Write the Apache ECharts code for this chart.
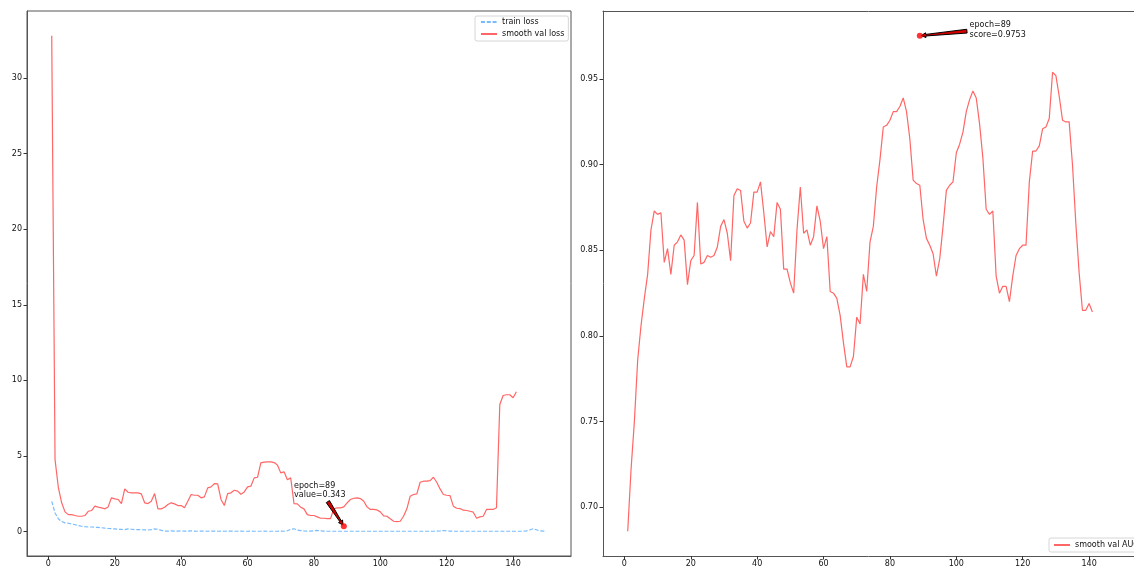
<!DOCTYPE html>
<html>
<head>
<meta charset="utf-8">
<title>Training curves</title>
<script src="https://cdn.jsdelivr.net/npm/echarts@6/dist/echarts.min.js"></script>
<style>
  html, body { margin: 0; padding: 0; background: #fff; }
  #chart { width: 1134px; height: 569px; }
</style>
</head>
<body>
<div id="chart"></div>
<script>
// ---- data -------------------------------------------------------------
const trainLoss = [
  2.00, 1.23, 0.84, 0.66, 0.57, 0.55, 0.50, 0.45, 0.40, 0.35,
  0.32, 0.30, 0.30, 0.28, 0.27, 0.25, 0.22, 0.20, 0.19, 0.17,
  0.15, 0.14, 0.13, 0.17, 0.15, 0.13, 0.12, 0.12, 0.11, 0.10,
  0.12, 0.17, 0.15, 0.08, 0.03, 0.03, 0.04, 0.03, 0.03, 0.04,
  0.03, 0.03, 0.04, 0.03, 0.02, 0.03, 0.03, 0.02, 0.03, 0.03,
  0.02, 0.03, 0.02, 0.03, 0.03, 0.02, 0.02, 0.03, 0.02, 0.02,
  0.03, 0.02, 0.02, 0.02, 0.03, 0.02, 0.02, 0.02, 0.02, 0.03,
  0.02, 0.05, 0.15, 0.18, 0.10, 0.06, 0.04, 0.03, 0.03, 0.05,
  0.07, 0.04, 0.03, 0.02, 0.02, 0.02, 0.02, 0.02, 0.02, 0.02,
  0.02, 0.02, 0.02, 0.02, 0.02, 0.02, 0.02, 0.02, 0.02, 0.02,
  0.02, 0.02, 0.02, 0.02, 0.02, 0.02, 0.02, 0.02, 0.02, 0.02,
  0.02, 0.02, 0.02, 0.02, 0.02, 0.02, 0.03, 0.04, 0.07, 0.04,
  0.03, 0.02, 0.02, 0.02, 0.02, 0.02, 0.02, 0.02, 0.02, 0.02,
  0.02, 0.02, 0.02, 0.02, 0.02, 0.02, 0.02, 0.02, 0.02, 0.02,
  0.02, 0.02, 0.02, 0.04, 0.10, 0.18, 0.12, 0.05, 0.03, 0.02
];

const smoothValLoss = [
  32.8, 4.76, 2.90, 1.90, 1.30, 1.12, 1.12, 1.06, 1.01, 1.01,
  1.06, 1.34, 1.39, 1.68, 1.61, 1.57, 1.50, 1.63, 2.23, 2.16,
  2.12, 1.85, 2.82, 2.60, 2.56, 2.56, 2.56, 2.49, 1.90, 1.85,
  2.00, 2.51, 1.50, 1.50, 1.61, 1.79, 1.90, 1.83, 1.72, 1.72,
  1.57, 2.00, 2.45, 2.40, 2.40, 2.23, 2.29, 2.89, 2.95, 3.17,
  3.15, 2.12, 1.72, 2.51, 2.56, 2.73, 2.67, 2.47, 2.62, 2.95,
  3.00, 3.55, 3.59, 4.54, 4.59, 4.61, 4.61, 4.56, 4.40, 3.88,
  3.95, 3.42, 3.55, 1.84, 1.83, 1.61, 1.50, 1.12, 1.06, 1.06,
  0.97, 0.88, 0.88, 0.86, 0.86, 1.50, 1.57, 1.57, 1.63, 1.90,
  2.12, 2.20, 2.23, 2.18, 2.00, 1.63, 1.46, 1.46, 1.43, 1.30,
  1.04, 1.01, 0.84, 0.68, 0.66, 0.68, 1.01, 1.50, 2.34, 2.45,
  2.49, 3.26, 3.33, 3.33, 3.37, 3.59, 3.26, 2.82, 2.45, 2.40,
  2.38, 1.68, 1.54, 1.52, 1.41, 1.39, 1.34, 1.28, 0.88, 0.97,
  1.01, 1.46, 1.46, 1.46, 1.57, 8.40, 9.00, 9.05, 9.05, 8.85,
  9.25
];

const smoothValAuc = [
  0.686, 0.722, 0.750, 0.786, 0.806, 0.822, 0.836, 0.862, 0.873, 0.871,
  0.872, 0.843, 0.851, 0.836, 0.853, 0.855, 0.859, 0.856, 0.830, 0.844,
  0.847, 0.878, 0.842, 0.843, 0.847, 0.846, 0.847, 0.852, 0.864, 0.868,
  0.860, 0.844, 0.882, 0.886, 0.885, 0.867, 0.863, 0.866, 0.884, 0.884,
  0.890, 0.872, 0.852, 0.861, 0.858, 0.878, 0.874, 0.839, 0.839, 0.831,
  0.825, 0.862, 0.887, 0.860, 0.862, 0.853, 0.858, 0.876, 0.867, 0.851,
  0.858, 0.826, 0.825, 0.822, 0.812, 0.796, 0.782, 0.782, 0.788, 0.811,
  0.807, 0.836, 0.826, 0.855, 0.864, 0.887, 0.903, 0.922, 0.923, 0.926,
  0.931, 0.931, 0.934, 0.939, 0.931, 0.915, 0.891, 0.889, 0.888, 0.868,
  0.857, 0.853, 0.848, 0.835, 0.845, 0.864, 0.885, 0.888, 0.890, 0.907,
  0.912, 0.919, 0.931, 0.938, 0.943, 0.939, 0.924, 0.904, 0.874, 0.871,
  0.873, 0.835, 0.825, 0.829, 0.829, 0.820, 0.835, 0.847, 0.851, 0.853,
  0.853, 0.890, 0.908, 0.908, 0.911, 0.921, 0.922, 0.927, 0.954, 0.952,
  0.940, 0.926, 0.925, 0.925, 0.900, 0.866, 0.837, 0.815, 0.815, 0.819,
  0.814
];

// best epochs reported by the training run
const bestLoss = { epoch: 89, value: 0.343 };
const bestScore = { epoch: 89, value: 0.9753 };

const lossTicks = [0, 5, 10, 15, 20, 25, 30];
const aucTicks = [0.70, 0.75, 0.80, 0.85, 0.90, 0.95];
const epochTicks = [0, 20, 40, 60, 80, 100, 120, 140];

// ---- helpers ----------------------------------------------------------
const withEpochs = arr => arr.map((v, i) => [i + 1, v]);

const FONT = 'DejaVu Sans';
const RED = '#ff6666';
const BLUE = '#78bcff';
const SPINE = '#555';

function paddedRange(values) {
  const lo = Math.min(...values), hi = Math.max(...values);
  const pad = (hi - lo) * 0.05;
  return [lo - pad, hi + pad];
}

const epochRange = paddedRange([1, trainLoss.length]);
const lossRange = paddedRange(trainLoss.concat(smoothValLoss));
const aucRange = paddedRange(smoothValAuc.concat([bestScore.value]));

// panel geometry: both panels share one epoch scale; the right panel
// runs past the page edge, so only the part that fits is laid out.
const PANEL_W = 544, PANEL_H = 545, TOP = 11;
const LEFT_A = 27, LEFT_B = 603, PAGE_W = 1134;
const visibleW = PAGE_W - LEFT_B;
const rightEpochMax = epochRange[0] + (epochRange[1] - epochRange[0]) * visibleW / PANEL_W;

function xAxisFor(gridIndex, max) {
  return {
    type: 'value', gridIndex,
    min: epochRange[0], max,
    splitLine: { show: false },
    axisLine: { show: true, onZero: false, lineStyle: { color: SPINE, width: 1 } },
    axisTick: { show: true, customValues: epochTicks, length: 3.5, lineStyle: { color: '#333' } },
    axisLabel: { customValues: epochTicks, fontFamily: FONT, fontSize: 8, color: '#111', margin: 4 }
  };
}

function topSpine(gridIndex, max) {
  return {
    type: 'value', gridIndex, position: 'top',
    min: epochRange[0], max,
    splitLine: { show: false },
    axisLine: { show: true, onZero: false, lineStyle: { color: SPINE, width: 1 } },
    axisTick: { show: false }, axisLabel: { show: false }
  };
}

function yAxisFor(gridIndex, range, ticks, fmt) {
  return {
    type: 'value', gridIndex,
    min: range[0], max: range[1],
    splitLine: { show: false },
    axisLine: { show: true, onZero: false, lineStyle: { color: SPINE, width: 1 } },
    axisTick: { show: true, customValues: ticks, length: 3.5, lineStyle: { color: '#333' } },
    axisLabel: { customValues: ticks, fontFamily: FONT, fontSize: 8, color: '#111', margin: 5,
                 formatter: fmt }
  };
}

// tapered arrow from the note toward the marked point, in data coordinates
function renderArrow(params, api) {
  const a = api.coord([api.value(0), api.value(1)]);
  const b = api.coord([api.value(2), api.value(3)]);
  const dx = b[0] - a[0], dy = b[1] - a[1];
  const len = Math.hypot(dx, dy);
  const ux = dx / len, uy = dy / len, nx = -uy, ny = ux;
  const tip = [b[0] - ux * 1.5, b[1] - uy * 1.5];
  const headLen = 4.5, headW = 2.4, w0 = 1.9, w1 = 0.8;
  const hb = [tip[0] - ux * headLen, tip[1] - uy * headLen];
  const pts = [
    [a[0] + nx * w0, a[1] + ny * w0],
    [hb[0] + nx * w1, hb[1] + ny * w1],
    [hb[0] + nx * headW, hb[1] + ny * headW],
    tip,
    [hb[0] - nx * headW, hb[1] - ny * headW],
    [hb[0] - nx * w1, hb[1] - ny * w1],
    [a[0] - nx * w0, a[1] - ny * w0]
  ];
  return {
    type: 'polygon',
    shape: { points: pts },
    style: { fill: '#d40000', stroke: '#000', lineWidth: 1 }
  };
}

// two-line note anchored at the baseline of its last line
function renderNote(params, api) {
  const p = api.coord([api.value(0), api.value(1)]);
  return {
    type: 'text',
    x: p[0], y: p[1] + 3.5,
    style: {
      text: api.value(2),
      fontFamily: FONT, fontSize: 8, lineHeight: 9.4,
      fill: '#111', align: 'left', verticalAlign: 'bottom'
    }
  };
}

const legendBase = {
  orient: 'vertical',
  itemWidth: 16, itemHeight: 8, itemGap: 4,
  backgroundColor: 'rgba(255,255,255,0.9)',
  borderColor: '#d6d6d6', borderWidth: 1, borderRadius: 2,
  itemStyle: { color: 'rgba(0,0,0,0)', opacity: 0, borderWidth: 0 },
  textStyle: { fontFamily: FONT, fontSize: 8, color: '#111' }
};

const chart = echarts.init(document.getElementById('chart'), null, { renderer: 'canvas' });

chart.setOption({
  animation: false,
  backgroundColor: '#fff',
  grid: [
    { left: LEFT_A, top: TOP, width: PANEL_W, height: PANEL_H, show: true, borderColor: SPINE, borderWidth: 1 },
    { left: LEFT_B, top: TOP, width: visibleW, height: PANEL_H, show: false }
  ],
  xAxis: [
    xAxisFor(0, epochRange[1]),
    xAxisFor(1, rightEpochMax),
    topSpine(1, rightEpochMax)
  ],
  yAxis: [
    yAxisFor(0, lossRange, lossTicks, v => String(Math.round(v))),
    yAxisFor(1, aucRange, aucTicks, v => v.toFixed(2))
  ],
  legend: [
    Object.assign({}, legendBase, {
      data: ['train loss', 'smooth val loss'],
      left: 475, top: 16, padding: [2, 4, 3, 5]
    }),
    Object.assign({}, legendBase, {
      data: ['smooth val AUC'],
      left: 1049, top: 538, padding: [3, 4, 3, 4]
    })
  ],
  series: [
    {
      name: 'train loss', type: 'line', xAxisIndex: 0, yAxisIndex: 0,
      data: withEpochs(trainLoss), symbol: 'none',
      lineStyle: { color: BLUE, width: 1.2, type: [4, 1.8] },
      itemStyle: { color: BLUE }
    },
    {
      name: 'smooth val loss', type: 'line', xAxisIndex: 0, yAxisIndex: 0,
      data: withEpochs(smoothValLoss), symbol: 'none',
      lineStyle: { color: RED, width: 1.2 },
      itemStyle: { color: RED }
    },
    {
      name: 'smooth val AUC', type: 'line', xAxisIndex: 1, yAxisIndex: 1,
      data: withEpochs(smoothValAuc), symbol: 'none',
      lineStyle: { color: RED, width: 1.2 },
      itemStyle: { color: RED }
    },
    {
      type: 'custom', xAxisIndex: 0, yAxisIndex: 0, clip: false, z: 5,
      data: [[84.2, 1.98, bestLoss.epoch, bestLoss.value]],
      renderItem: renderArrow
    },
    {
      type: 'custom', xAxisIndex: 1, yAxisIndex: 1, clip: false, z: 5,
      data: [[103.2, 0.978, bestScore.epoch, bestScore.value]],
      renderItem: renderArrow
    },
    {
      type: 'custom', xAxisIndex: 0, yAxisIndex: 0, clip: false, z: 6,
      data: [[bestLoss.epoch - 15, bestLoss.value + 2, 'epoch=' + bestLoss.epoch + '\nvalue=' + bestLoss.value]],
      renderItem: renderNote
    },
    {
      type: 'custom', xAxisIndex: 1, yAxisIndex: 1, clip: false, z: 6,
      data: [[bestScore.epoch + 15, bestScore.value, 'epoch=' + bestScore.epoch + '\nscore=' + bestScore.value]],
      renderItem: renderNote
    },
    {
      type: 'scatter', xAxisIndex: 0, yAxisIndex: 0, z: 7,
      data: [[bestLoss.epoch, bestLoss.value]],
      symbolSize: 6, itemStyle: { color: '#ff0000' }
    },
    {
      type: 'scatter', xAxisIndex: 1, yAxisIndex: 1, z: 7,
      data: [[bestScore.epoch, bestScore.value]],
      symbolSize: 6, itemStyle: { color: '#ff0000' }
    }
  ]
});
</script>
</body>
</html>
